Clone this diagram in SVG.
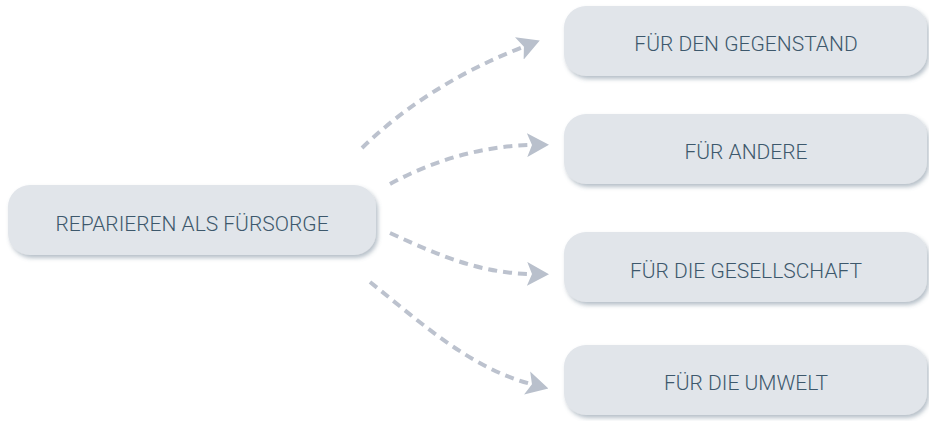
<svg xmlns="http://www.w3.org/2000/svg" width="929" height="421" viewBox="0 0 929 421">
<defs>
<filter id="sh" x="-10%" y="-20%" width="125%" height="150%">
<feDropShadow dx="2" dy="3" stdDeviation="2" flood-color="#5f7487" flood-opacity="0.45"/>
</filter>
<marker id="ah" viewBox="0 0 22 24" refX="4" refY="12" markerWidth="22" markerHeight="24" markerUnits="userSpaceOnUse" orient="auto">
<path d="M0,0 L22,12 L0,24 L5,12 Z" fill="#b9c0cc"/>
</marker>
</defs>
<style>
.box{fill:#e1e5ea;filter:url(#sh);}
.lbl{font-family:Roboto,"Liberation Sans",sans-serif;font-weight:300;font-size:21px;fill:#3d586c;text-anchor:middle;}
.con{fill:none;stroke:#bcc2ce;stroke-width:4;stroke-dasharray:9 6;stroke-linecap:butt;marker-end:url(#ah);}
</style>
<rect width="929" height="421" fill="#ffffff"/>
<g id="connectors">
<path class="con" d="M362,148 Q428,84 523,47"/>
<path class="con" d="M390,184 C430,162 480,146 531,145"/>
<path class="con" d="M390,233 C440,256 480,273 531,274"/>
<path class="con" d="M370,282 C420,322 470,368 531,384"/>
</g>
<g id="n-main">
<rect class="box" x="8" y="185" width="368" height="70" rx="22"/>
<text class="lbl" x="192" y="231">REPARIEREN ALS FÜRSORGE</text>
</g>
<g id="n-gegenstand">
<rect class="box" x="564" y="6" width="363" height="70" rx="22"/>
<text class="lbl" x="746" y="51">FÜR DEN GEGENSTAND</text>
</g>
<g id="n-andere">
<rect class="box" x="564" y="114" width="363" height="70" rx="22"/>
<text class="lbl" x="746" y="159">FÜR ANDERE</text>
</g>
<g id="n-gesellschaft">
<rect class="box" x="564" y="232" width="363" height="70" rx="22"/>
<text class="lbl" x="746" y="278">FÜR DIE GESELLSCHAFT</text>
</g>
<g id="n-umwelt">
<rect class="box" x="564" y="345" width="363" height="70" rx="22"/>
<text class="lbl" x="746" y="390">FÜR DIE UMWELT</text>
</g>
</svg>
